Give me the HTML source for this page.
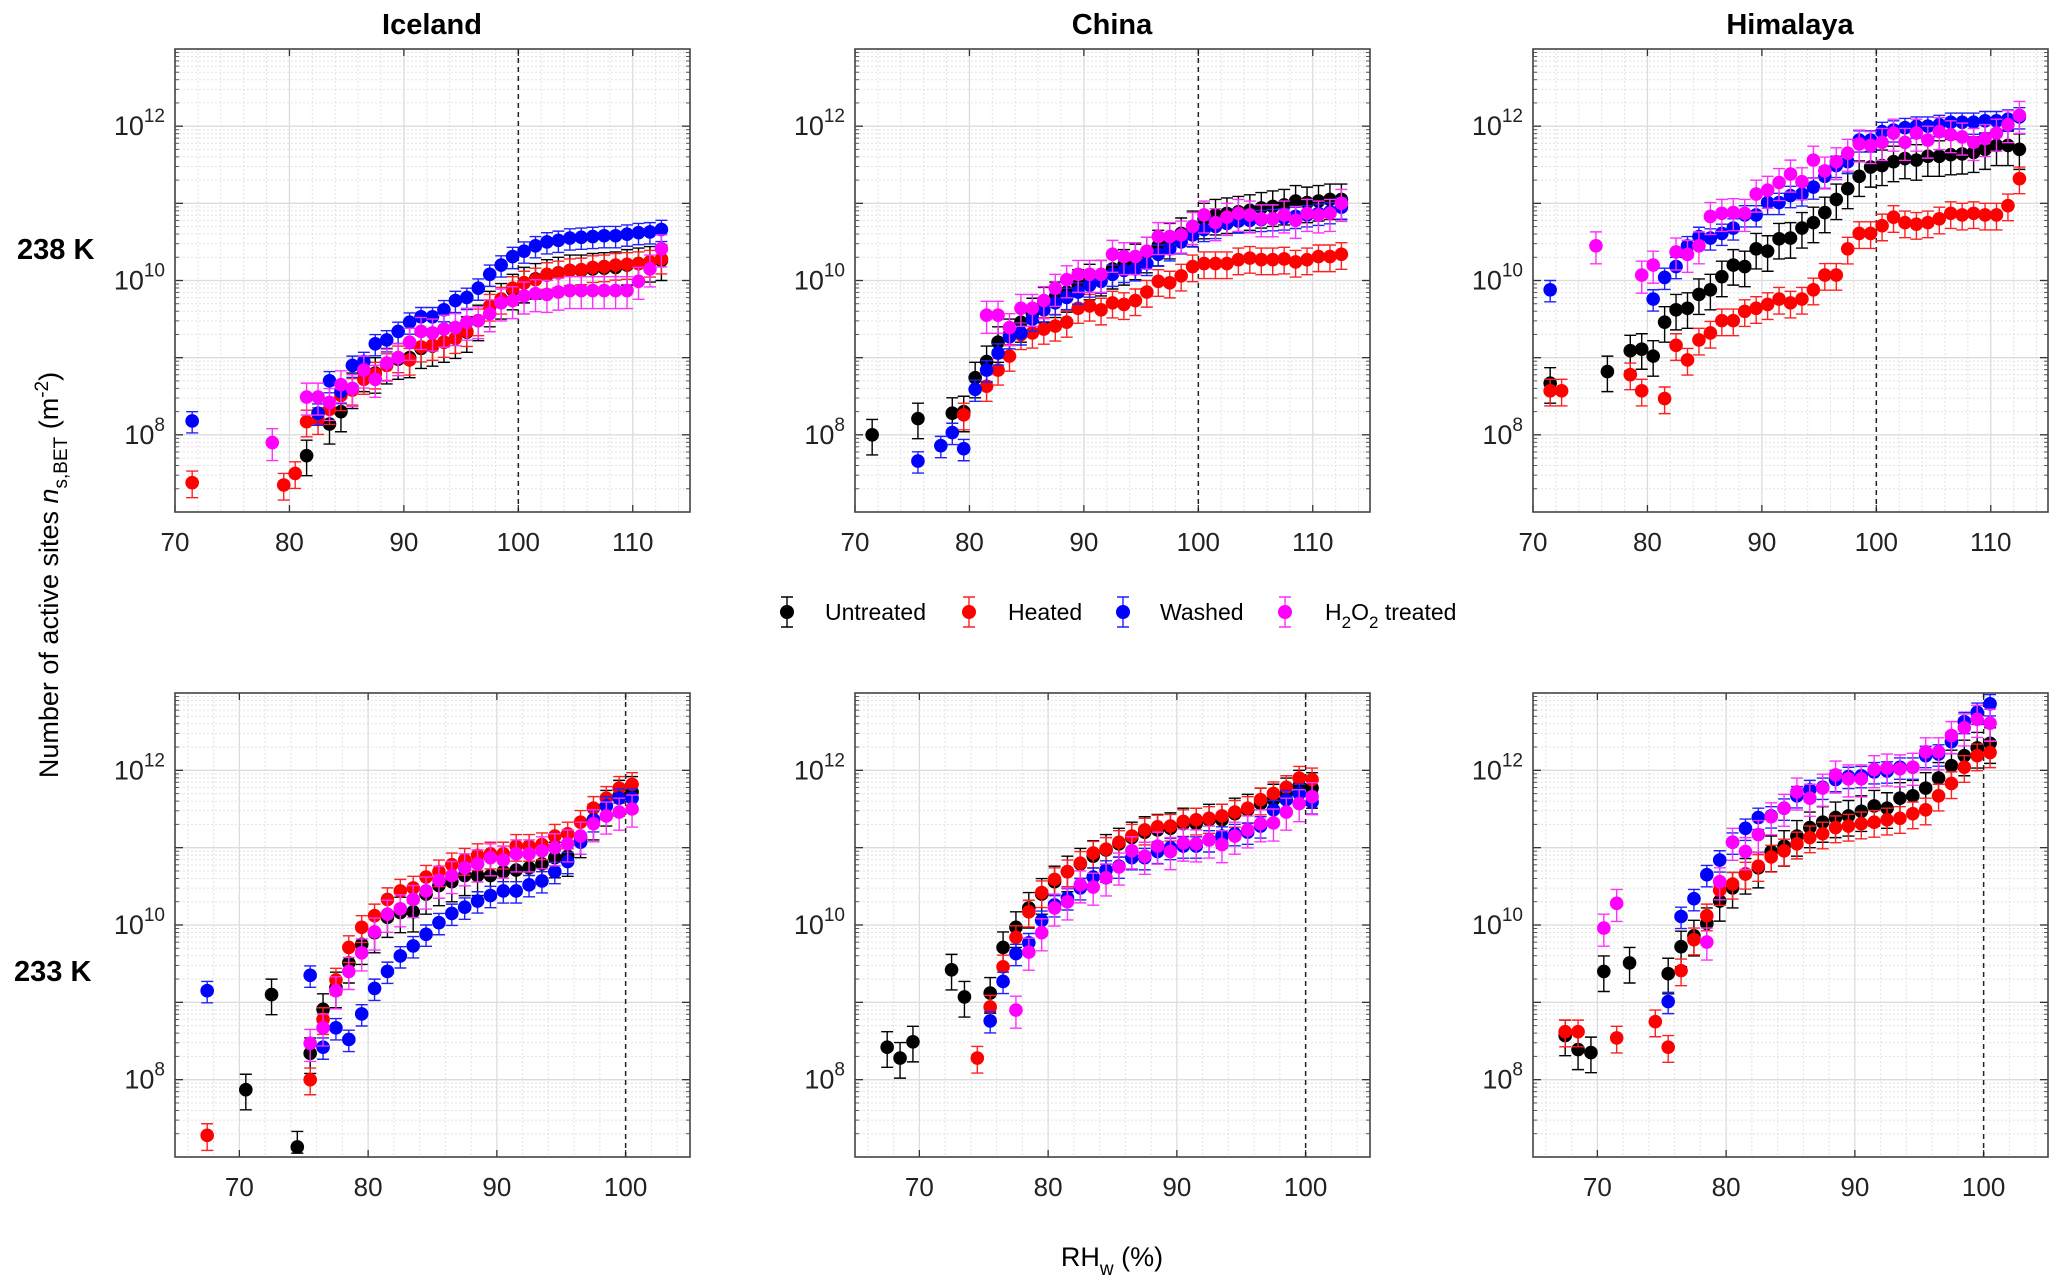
<!DOCTYPE html>
<html><head><meta charset="utf-8">
<style>
html,body{margin:0;padding:0;background:#fff;}
svg{display:block;font-family:"Liberation Sans",Arial,sans-serif;}
</style></head>
<body>
<svg id="fig" width="2067" height="1288" viewBox="0 0 2067 1288" xmlns="http://www.w3.org/2000/svg">
  <g id="panels"></g>
  <text x="432" y="34" font-size="29" font-weight="bold" text-anchor="middle">Iceland</text>
  <text x="1112" y="34" font-size="29" font-weight="bold" text-anchor="middle">China</text>
  <text x="1790" y="34" font-size="29" font-weight="bold" text-anchor="middle">Himalaya</text>
  <text x="17" y="259" font-size="29" font-weight="bold">238 K</text>
  <text x="14" y="981" font-size="29" font-weight="bold">233 K</text>
  <text transform="translate(58,575) rotate(-90)" font-size="27" text-anchor="middle">Number of active sites <tspan font-style="italic">n</tspan><tspan font-size="19" dy="9">s,BET</tspan><tspan dy="-9"> (m</tspan><tspan font-size="19" dy="-10">-2</tspan><tspan dy="10">)</tspan></text>
  <text x="1112" y="1266" font-size="27" text-anchor="middle">RH<tspan font-size="19" dy="9">w</tspan><tspan dy="-9"> (%)</tspan></text>
  <g id="legend"></g>
</svg>
<script>
// ---- data (log10 of n_s,BET) ----
// Iceland 238 K
const ice238_black_x=[81.5,83.5,84.5,85.5,86.5,87.5,88.5,89.5,90.5,91.5,92.5,93.5,94.5,95.5,96.5,97.5,98.5,99.5,100.5,101.5,102.5,103.5,104.5,105.5,106.5,107.5,108.5,109.5,110.5,111.5,112.5];
const ice238_black_y=[7.73,8.14,8.3,8.6,8.82,8.8,8.92,8.98,9.0,9.12,9.15,9.2,9.25,9.33,9.48,9.66,9.76,9.88,9.97,10.02,10.07,10.1,10.13,10.13,10.15,10.16,10.17,10.2,10.22,10.24,10.26];
const ice238_red_x=[71.5,79.5,80.5,81.5,82.5,83.5,84.5,85.5,86.5,87.5,88.5,89.5,90.5,91.5,92.5,93.5,94.5,95.5,96.5,97.5,98.5,99.5,100.5,101.5,102.5,103.5,104.5,105.5,106.5,107.5,108.5,109.5,110.5,111.5,112.5];
const ice238_red_y=[7.38,7.35,7.5,8.17,8.2,8.33,8.51,8.58,8.72,8.79,8.9,9.0,8.97,9.14,9.16,9.2,9.25,9.34,9.48,9.67,9.76,9.9,9.97,10.01,10.08,10.1,10.13,10.14,10.17,10.18,10.2,10.21,10.22,10.24,10.28];
const ice238_blue_x=[71.5,82.5,83.5,84.5,85.5,86.5,87.5,88.5,89.5,90.5,91.5,92.5,93.5,94.5,95.5,96.5,97.5,98.5,99.5,100.5,101.5,102.5,103.5,104.5,105.5,106.5,107.5,108.5,109.5,110.5,111.5,112.5];
const ice238_blue_y=[8.18,8.28,8.7,8.56,8.9,8.95,9.18,9.23,9.34,9.46,9.53,9.53,9.62,9.74,9.78,9.9,10.08,10.2,10.31,10.38,10.45,10.5,10.52,10.55,10.56,10.57,10.58,10.58,10.6,10.62,10.63,10.66];
const ice238_mag_x=[78.5,81.5,82.5,83.5,84.5,85.5,86.5,87.5,88.5,89.5,90.5,91.5,92.5,93.5,94.5,95.5,96.5,97.5,98.5,99.5,100.5,101.5,102.5,103.5,104.5,105.5,106.5,107.5,108.5,109.5,110.5,111.5,112.5];
const ice238_mag_y=[7.9,8.49,8.49,8.42,8.65,8.6,8.84,8.72,8.93,9.0,9.2,9.34,9.32,9.37,9.39,9.46,9.48,9.57,9.71,9.74,9.8,9.83,9.82,9.85,9.87,9.87,9.87,9.87,9.87,9.87,9.99,10.15,10.41];
// China 238 K
const chi238_black_x=[71.5,75.5,78.5,79.5,80.5,81.5,82.5,83.5,84.5,85.5,86.5,87.5,88.5,89.5,90.5,91.5,92.5,93.5,94.5,95.5,96.5,97.5,98.5,99.5,100.5,101.5,102.5,103.5,104.5,105.5,106.5,107.5,108.5,109.5,110.5,111.5,112.5];
const chi238_black_y=[8.0,8.21,8.28,8.3,8.74,8.95,9.2,9.3,9.46,9.57,9.71,9.78,9.85,9.94,10.01,10.06,10.15,10.2,10.27,10.36,10.45,10.54,10.61,10.7,10.8,10.85,10.87,10.89,10.91,10.94,10.96,10.98,11.03,11.01,11.03,11.05,11.05];
const chi238_red_x=[79.5,81.5,82.5,83.5,84.5,85.5,86.5,87.5,88.5,89.5,90.5,91.5,92.5,93.5,94.5,95.5,96.5,97.5,98.5,99.5,100.5,101.5,102.5,103.5,104.5,105.5,106.5,107.5,108.5,109.5,110.5,111.5,112.5];
const chi238_red_y=[8.26,8.63,8.84,9.02,9.3,9.32,9.37,9.41,9.46,9.64,9.67,9.62,9.71,9.69,9.74,9.85,9.99,9.97,10.06,10.18,10.22,10.22,10.22,10.27,10.29,10.27,10.27,10.28,10.24,10.27,10.31,10.31,10.34];
const chi238_blue_x=[75.5,77.5,78.5,79.5,80.5,81.5,82.5,83.5,84.5,85.5,86.5,87.5,88.5,89.5,90.5,91.5,92.5,93.5,94.5,95.5,96.5,97.5,98.5,99.5,100.5,101.5,102.5,103.5,104.5,105.5,106.5,107.5,108.5,109.5,110.5,111.5,112.5];
const chi238_blue_y=[7.66,7.86,8.03,7.82,8.59,8.84,9.06,9.27,9.32,9.5,9.62,9.71,9.78,9.85,9.94,9.99,10.08,10.13,10.15,10.22,10.34,10.41,10.5,10.59,10.66,10.7,10.74,10.77,10.78,10.79,10.8,10.81,10.83,10.85,10.87,10.89,10.95];
const chi238_mag_x=[81.5,82.5,83.5,84.5,85.5,86.5,87.5,88.5,89.5,90.5,91.5,92.5,93.5,94.5,95.5,96.5,97.5,98.5,99.5,100.5,101.5,102.5,103.5,104.5,105.5,106.5,107.5,108.5,109.5,110.5,111.5,112.5];
const chi238_mag_y=[9.55,9.55,9.39,9.64,9.64,9.74,9.9,10.01,10.08,10.08,10.08,10.34,10.31,10.31,10.38,10.57,10.57,10.59,10.7,10.85,10.75,10.82,10.87,10.85,10.8,10.8,10.85,10.78,10.87,10.85,10.87,11.0];
// Himalaya 238 K
const him238_black_x=[71.5,76.5,78.5,79.5,80.5,81.5,82.5,83.5,84.5,85.5,86.5,87.5,88.5,89.5,90.5,91.5,92.5,93.5,94.5,95.5,96.5,97.5,98.5,99.5,100.5,101.5,102.5,103.5,104.5,105.5,106.5,107.5,108.5,109.5,110.5,111.5,112.5];
const him238_black_y=[8.67,8.82,9.09,9.11,9.02,9.46,9.62,9.64,9.82,9.88,10.05,10.2,10.18,10.41,10.38,10.54,10.55,10.68,10.75,10.88,11.05,11.19,11.35,11.47,11.49,11.54,11.58,11.56,11.61,11.61,11.63,11.64,11.66,11.7,11.75,11.75,11.7];
const him238_red_x=[71.5,72.5,78.5,79.5,81.5,82.5,83.5,84.5,85.5,86.5,87.5,88.5,89.5,90.5,91.5,92.5,93.5,94.5,95.5,96.5,97.5,98.5,99.5,100.5,101.5,102.5,103.5,104.5,105.5,106.5,107.5,108.5,109.5,110.5,111.5,112.5];
const him238_red_y=[8.57,8.57,8.78,8.57,8.47,9.16,8.97,9.23,9.32,9.48,9.48,9.6,9.64,9.69,9.76,9.71,9.76,9.88,10.07,10.07,10.41,10.61,10.61,10.71,10.82,10.75,10.73,10.75,10.8,10.87,10.85,10.87,10.85,10.85,10.97,11.32];
const him238_blue_x=[71.5,80.5,81.5,82.5,83.5,84.5,85.5,86.5,87.5,88.5,89.5,90.5,91.5,92.5,93.5,94.5,95.5,96.5,97.5,98.5,99.5,100.5,101.5,102.5,103.5,104.5,105.5,106.5,107.5,108.5,109.5,110.5,111.5,112.5];
const him238_blue_y=[9.88,9.76,10.04,10.18,10.45,10.57,10.55,10.61,10.68,10.85,10.85,11.01,11.01,11.1,11.12,11.21,11.35,11.49,11.54,11.82,11.82,11.93,11.95,11.98,12.0,12.0,12.02,12.05,12.05,12.05,12.07,12.07,12.09,12.12];
const him238_mag_x=[75.5,79.5,80.5,82.5,83.5,84.5,85.5,86.5,87.5,88.5,89.5,90.5,91.5,92.5,93.5,94.5,95.5,96.5,97.5,98.5,99.5,100.5,101.5,102.5,103.5,104.5,105.5,106.5,107.5,108.5,109.5,110.5,111.5,112.5];
const him238_mag_y=[10.45,10.07,10.2,10.37,10.34,10.45,10.83,10.87,10.88,10.87,11.12,11.17,11.27,11.38,11.28,11.56,11.42,11.54,11.65,11.77,11.75,11.79,11.91,11.79,11.91,11.82,11.93,11.89,11.86,11.79,11.84,11.91,12.02,12.14];
// Iceland 233 K
const ice233_black_x=[70.5,72.5,74.5,75.5,76.5,77.5,78.5,79.5,80.5,81.5,82.5,83.5,84.5,85.5,86.5,87.5,88.5,89.5,90.5,91.5,92.5,93.5,94.5,95.5,96.5,97.5,98.5,99.5,100.5];
const ice233_black_y=[7.87,9.1,7.13,8.34,8.91,9.19,9.51,9.75,9.9,10.1,10.16,10.17,10.4,10.51,10.56,10.64,10.64,10.64,10.69,10.71,10.74,10.79,10.87,10.89,11.13,11.36,11.54,11.67,11.72];
const ice233_red_x=[67.5,75.5,76.5,77.5,78.5,79.5,80.5,81.5,82.5,83.5,84.5,85.5,86.5,87.5,88.5,89.5,90.5,91.5,92.5,93.5,94.5,95.5,96.5,97.5,98.5,99.5,100.5];
const ice233_red_y=[7.28,8.0,8.78,9.29,9.71,9.97,10.12,10.33,10.44,10.48,10.62,10.69,10.78,10.84,10.9,10.92,10.92,11.02,11.02,11.04,11.15,11.18,11.33,11.51,11.64,11.77,11.82];
const ice233_blue_x=[67.5,75.5,76.5,77.5,78.5,79.5,80.5,81.5,82.5,83.5,84.5,85.5,86.5,87.5,88.5,89.5,90.5,91.5,92.5,93.5,94.5,95.5,96.5,97.5,98.5,99.5,100.5];
const ice233_blue_y=[9.15,9.35,8.42,8.67,8.52,8.85,9.18,9.4,9.6,9.73,9.88,10.03,10.15,10.23,10.31,10.38,10.44,10.44,10.52,10.57,10.69,10.82,11.07,11.36,11.54,11.64,11.64];
const ice233_mag_x=[75.5,76.5,77.5,78.5,79.5,80.5,81.5,82.5,83.5,84.5,85.5,86.5,87.5,88.5,89.5,90.5,91.5,92.5,93.5,94.5,95.5,96.5,97.5,98.5,99.5,100.5];
const ice233_mag_y=[8.47,8.67,9.15,9.4,9.64,9.91,10.14,10.21,10.33,10.44,10.58,10.64,10.74,10.79,10.87,10.84,10.92,10.92,10.96,11.0,11.05,11.15,11.31,11.41,11.46,11.5];
// China 233 K
const chi233_black_x=[67.5,68.5,69.5,72.5,73.5,75.5,76.5,77.5,78.5,79.5,80.5,81.5,82.5,83.5,84.5,85.5,86.5,87.5,88.5,89.5,90.5,91.5,92.5,93.5,94.5,95.5,96.5,97.5,98.5,99.5,100.5];
const chi233_black_y=[8.42,8.28,8.49,9.42,9.07,9.12,9.71,9.97,10.22,10.4,10.56,10.69,10.79,10.89,10.97,11.05,11.13,11.2,11.23,11.25,11.31,11.31,11.36,11.36,11.44,11.49,11.57,11.62,11.7,11.8,11.77];
const chi233_red_x=[74.5,75.5,76.5,77.5,78.5,79.5,80.5,81.5,82.5,83.5,84.5,85.5,86.5,87.5,88.5,89.5,90.5,91.5,92.5,93.5,94.5,95.5,96.5,97.5,98.5,99.5,100.5];
const chi233_red_y=[8.28,8.94,9.46,9.84,10.17,10.42,10.59,10.69,10.8,10.93,10.98,11.07,11.15,11.23,11.27,11.28,11.34,11.36,11.38,11.41,11.46,11.51,11.62,11.7,11.78,11.9,11.88];
const chi233_blue_x=[75.5,76.5,77.5,78.5,79.5,80.5,81.5,82.5,83.5,84.5,85.5,86.5,87.5,88.5,89.5,90.5,91.5,92.5,93.5,94.5,95.5,96.5,97.5,98.5,99.5,100.5];
const chi233_blue_y=[8.76,9.27,9.63,9.77,10.06,10.26,10.35,10.48,10.62,10.71,10.76,10.87,10.87,10.95,11.0,11.02,11.02,11.1,11.15,11.18,11.2,11.28,11.49,11.62,11.7,11.59];
const chi233_mag_x=[77.5,78.5,79.5,80.5,81.5,82.5,83.5,84.5,85.5,86.5,87.5,88.5,89.5,90.5,91.5,92.5,93.5,94.5,95.5,96.5,97.5,98.5,99.5,100.5];
const chi233_mag_y=[8.9,9.65,9.9,10.22,10.3,10.52,10.49,10.61,10.75,10.96,10.89,11.02,10.95,11.06,11.05,11.1,11.04,11.15,11.23,11.31,11.32,11.46,11.57,11.66];
// Himalaya 233 K
const him233_black_x=[67.5,68.5,69.5,70.5,72.5,75.5,76.5,77.5,78.5,79.5,80.5,81.5,82.5,83.5,84.5,85.5,86.5,87.5,88.5,89.5,90.5,91.5,92.5,93.5,94.5,95.5,96.5,97.5,98.5,99.5,100.5];
const him233_black_y=[8.57,8.39,8.35,9.4,9.51,9.37,9.72,9.86,10.02,10.31,10.48,10.66,10.74,10.95,11.02,11.15,11.26,11.33,11.39,11.41,11.47,11.54,11.51,11.64,11.67,11.77,11.9,12.06,12.19,12.29,12.35];
const him233_red_x=[67.5,68.5,71.5,74.5,75.5,76.5,77.5,78.5,79.5,80.5,81.5,82.5,83.5,84.5,85.5,86.5,87.5,88.5,89.5,90.5,91.5,92.5,93.5,94.5,95.5,96.5,97.5,98.5,99.5,100.5];
const him233_red_y=[8.62,8.62,8.54,8.75,8.42,9.41,9.81,10.12,10.45,10.53,10.66,10.76,10.88,10.96,11.05,11.13,11.18,11.26,11.28,11.31,11.33,11.36,11.38,11.44,11.49,11.67,11.83,12.04,12.19,12.23];
const him233_blue_x=[75.5,76.5,77.5,78.5,79.5,80.5,81.5,82.5,83.5,84.5,85.5,86.5,87.5,88.5,89.5,90.5,91.5,92.5,93.5,94.5,95.5,96.5,97.5,98.5,99.5,100.5];
const him233_blue_y=[9.01,10.11,10.34,10.65,10.84,11.07,11.25,11.39,11.41,11.51,11.67,11.75,11.78,11.88,11.92,11.93,11.98,11.99,12.04,12.04,12.19,12.21,12.37,12.63,12.75,12.86];
const him233_mag_x=[70.5,71.5,78.5,79.5,80.5,81.5,82.5,83.5,84.5,85.5,86.5,87.5,88.5,89.5,90.5,91.5,92.5,93.5,94.5,95.5,96.5,97.5,98.5,99.5,100.5];
const him233_mag_y=[9.96,10.28,9.78,10.56,11.07,10.95,11.17,11.4,11.51,11.72,11.64,11.77,11.94,11.89,11.89,12.01,12.03,12.02,12.04,12.24,12.24,12.45,12.55,12.66,12.61];

const seriesNames=["Untreated","Heated","Washed","H2O2 treated"];
const seriesErr=[0.2,0.15,0.12,0.18];
const xTicksTop=[70,80,90,100,110];
const xTicksBottom=[70,80,90,100];
const yTickExps=[8,10,12];

// ---- layout (not data) ----
const NS="http://www.w3.org/2000/svg";
const colors=["#000000","#ff0000","#0000ff","#ff00ff"];
const errColors=["#000000","#ff2020","#2020ff","#ff30ff"];
const panelLefts=[175,855,1533], panelW=515;
const rows=[{top:49,bottom:512,xmin:70,xmax:115,ticks:xTicksTop,minorStart:70},
            {top:693,bottom:1157,xmin:65,xmax:105,ticks:xTicksBottom,minorStart:66}];
const panelDefs=[
 {name:"iceland-238k",r:0,c:0,s:[[ice238_black_x,ice238_black_y],[ice238_red_x,ice238_red_y],[ice238_blue_x,ice238_blue_y],[ice238_mag_x,ice238_mag_y]]},
 {name:"china-238k",r:0,c:1,s:[[chi238_black_x,chi238_black_y],[chi238_red_x,chi238_red_y],[chi238_blue_x,chi238_blue_y],[chi238_mag_x,chi238_mag_y]]},
 {name:"himalaya-238k",r:0,c:2,s:[[him238_black_x,him238_black_y],[him238_red_x,him238_red_y],[him238_blue_x,him238_blue_y],[him238_mag_x,him238_mag_y]]},
 {name:"iceland-233k",r:1,c:0,s:[[ice233_black_x,ice233_black_y],[ice233_red_x,ice233_red_y],[ice233_blue_x,ice233_blue_y],[ice233_mag_x,ice233_mag_y]]},
 {name:"china-233k",r:1,c:1,s:[[chi233_black_x,chi233_black_y],[chi233_red_x,chi233_red_y],[chi233_blue_x,chi233_blue_y],[chi233_mag_x,chi233_mag_y]]},
 {name:"himalaya-233k",r:1,c:2,s:[[him233_black_x,him233_black_y],[him233_red_x,him233_red_y],[him233_blue_x,him233_blue_y],[him233_mag_x,him233_mag_y]]}
];
const seriesKeys=["untreated","heated","washed","h2o2"];

function mk(tag,attrs,parent){const e=document.createElementNS(NS,tag);for(const k in attrs)e.setAttribute(k,attrs[k]);if(parent)parent.appendChild(e);return e;}

const root=document.getElementById("panels");
panelDefs.forEach(p=>{
  const R=rows[p.r], L=panelLefts[p.c], W=panelW, T=R.top, B=R.bottom;
  const xs=v=>L+(v-R.xmin)/(R.xmax-R.xmin)*W;
  const ys=v=>B-(v-7)/(13-7)*(B-T);
  const g=mk("g",{},root);
  
  
  const grid=mk("g",{},g);
  
  
  for(let v=R.minorStart; v<R.xmax; v+=2){
    if(R.ticks.indexOf(v)>=0) continue;
    mk("line",{x1:xs(v),x2:xs(v),y1:T,y2:B,stroke:"#e2e2e2","stroke-width":1,"stroke-dasharray":"2,2"},grid);
  }
  for(let d=7; d<13; d++){
    for(let m=2;m<=9;m++){
      const yy=ys(d+Math.log10(m));
      mk("line",{x1:L,x2:L+W,y1:yy,y2:yy,stroke:"#e2e2e2","stroke-width":1,"stroke-dasharray":"2,2"},grid);
      mk("line",{x1:L,x2:L+4,y1:yy,y2:yy,stroke:"#555","stroke-width":1},grid);
      mk("line",{x1:L+W-4,x2:L+W,y1:yy,y2:yy,stroke:"#555","stroke-width":1},grid);
    }
  }
  for(let d=8; d<=12; d++){
    const yy=ys(d);
    mk("line",{x1:L,x2:L+W,y1:yy,y2:yy,stroke:"#dcdcdc","stroke-width":1.3},grid);
    mk("line",{x1:L,x2:L+8,y1:yy,y2:yy,stroke:"#333","stroke-width":1.3},grid);
    mk("line",{x1:L+W-8,x2:L+W,y1:yy,y2:yy,stroke:"#333","stroke-width":1.3},grid);
  }
  R.ticks.forEach(v=>{
    const xx=xs(v);
    if(v!==100) mk("line",{x1:xx,x2:xx,y1:T,y2:B,stroke:"#dcdcdc","stroke-width":1.3},grid);
    mk("line",{x1:xx,x2:xx,y1:B-7,y2:B,stroke:"#333","stroke-width":1.3},grid);
    mk("line",{x1:xx,x2:xx,y1:T,y2:T+7,stroke:"#333","stroke-width":1.3},grid);
    const t=mk("text",{x:xx,y:B+39,"font-size":26,"text-anchor":"middle",fill:"#222"},g);
    t.textContent=v;
    
    
  });
  yTickExps.forEach(e=>{
    const yy=ys(e);
    const t=mk("text",{x:L-10,y:yy+9,"font-size":27,"text-anchor":"end",fill:"#222"},g);
    
    
    const a=mk("tspan",{},t); a.textContent="10";
    const b=mk("tspan",{"font-size":19,dy:-13},t); b.textContent=String(e);
  });
  const dl=mk("line",{x1:xs(100),x2:xs(100),y1:T,y2:B,stroke:"#222","stroke-width":1.5,"stroke-dasharray":"5,4"},g);
  
  
  p.s.forEach((pair,si)=>{
    const sg=mk("g",{},g);
    
    
    const X=pair[0], Y=pair[1], er=seriesErr[si];
    for(let i=0;i<X.length;i++){
      const cx=xs(X[i]), cy=ys(Y[i]);
      const y1=ys(Y[i]+er), y2=ys(Math.max(7.05,Y[i]-er*1.3));
      const eb=mk("path",{d:`M${cx},${y1}V${y2}M${cx-6},${y1}H${cx+6}M${cx-6},${y2}H${cx+6}`,stroke:errColors[si],"stroke-width":1.4,fill:"none"},sg);
      
      
      const c=mk("circle",{cx:cx,cy:cy,r:6.8,fill:colors[si]},sg);
      
      
    }
  });
  const fr=mk("rect",{x:L,y:T,width:W,height:B-T,fill:"none",stroke:"#444","stroke-width":1.6},g);
  
  
});

const leg=document.getElementById("legend");
const legMarkX=[787,969,1123,1285], legTextX=[825,1008,1160,1325], legY=612;
seriesNames.forEach((n,i)=>{
  const g=mk("g",{},leg);
  
  
  const x=legMarkX[i];
  mk("path",{d:`M${x},${legY-15}V${legY+15}M${x-6},${legY-15}H${x+6}M${x-6},${legY+15}H${x+6}`,stroke:errColors[i],"stroke-width":1.4,fill:"none"},g);
  mk("circle",{cx:x,cy:legY,r:7,fill:colors[i]},g);
  const t=mk("text",{x:legTextX[i],y:legY+8,"font-size":23},g);
  if(i===3){
    const a=mk("tspan",{},t);a.textContent="H";
    const b=mk("tspan",{"font-size":17,dy:8},t);b.textContent="2";
    const c=mk("tspan",{dy:-8},t);c.textContent="O";
    const d=mk("tspan",{"font-size":17,dy:8},t);d.textContent="2";
    const e=mk("tspan",{dy:-8},t);e.textContent=" treated";
  } else t.textContent=n;
});
</script>
</body></html>
